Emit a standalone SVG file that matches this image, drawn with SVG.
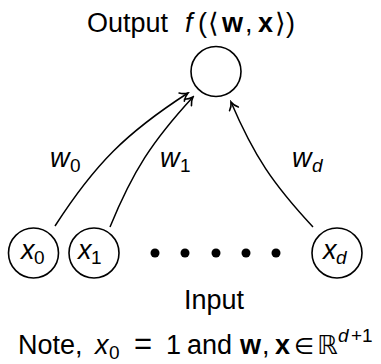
<svg xmlns="http://www.w3.org/2000/svg" width="381" height="364" viewBox="0 0 381 364">
  <style>
    .node { fill: #fff; stroke: #000; stroke-width: 1.6; }
    .edge { fill: none; stroke: #000; stroke-width: 1.5; marker-end: url(#to); }
    text { font-family: "Liberation Sans", "DejaVu Sans", sans-serif; font-size: 27px; fill: #000; }
    .it { font-style: italic; }
    .bf { font-weight: bold; }
    .sub { font-size: 19px; }
    .sym { font-family: "DejaVu Sans", sans-serif; }
  </style>
  <defs>
    <marker id="to" viewBox="-9 -6 11 12" markerWidth="11" markerHeight="12" refX="0" refY="0" orient="auto" markerUnits="userSpaceOnUse">
      <path d="M-7.5,-4.8 C-5,-2 -2,-0.6 0,0 C-2,0.6 -5,2 -7.5,4.8" fill="none" stroke="#000" stroke-width="1.6" stroke-linecap="round"/>
    </marker>
  </defs>

  <!-- title -->
  <text id="title" y="32"><tspan x="87">Output</tspan><tspan x="185" class="it">f</tspan><tspan x="198">(</tspan><tspan x="208" class="sym">⟨</tspan><tspan x="222" class="bf">w</tspan><tspan x="245">,</tspan><tspan x="258" class="bf">x</tspan><tspan x="275" class="sym">⟩</tspan><tspan x="286">)</tspan></text>

  <!-- output neuron -->
  <g id="output">
    <circle class="node" cx="216" cy="71.5" r="25"/>
  </g>

  <!-- input neurons -->
  <g id="x0">
    <circle class="node" cx="33.5" cy="253" r="25"/>
    <text y="259"><tspan x="21" class="it">x</tspan><tspan x="34" y="264" class="sub">0</tspan></text>
  </g>
  <g id="x1">
    <circle class="node" cx="94" cy="253" r="25"/>
    <text y="259"><tspan x="78" class="it">x</tspan><tspan x="91" y="264" class="sub">1</tspan></text>
  </g>
  <g id="xd">
    <circle class="node" cx="337" cy="253" r="25"/>
    <text y="259"><tspan x="323" class="it">x</tspan><tspan x="336" y="264" class="sub it">d</tspan></text>
  </g>

  <!-- ellipsis between x1 and xd -->
  <g id="dots" fill="#000">
    <circle cx="155" cy="253" r="4.5"/>
    <circle cx="185" cy="253" r="4.5"/>
    <circle cx="216" cy="253" r="4.5"/>
    <circle cx="246" cy="253" r="4.5"/>
    <circle cx="276" cy="253" r="4.5"/>
  </g>

  <!-- weighted connections -->
  <g id="edges">
    <path class="edge" d="M55,226 C95,164 126,133 188,93"/>
    <path class="edge" d="M110,227 C133,171 152,141.5 193,97"/>
    <path class="edge" d="M313,227 C273,184 254,156 231,102"/>
    <text y="167"><tspan x="50" class="it">w</tspan><tspan x="70" y="172" class="sub">0</tspan></text>
    <text y="167"><tspan x="160" class="it">w</tspan><tspan x="180" y="172" class="sub">1</tspan></text>
    <text y="167"><tspan x="292" class="it">w</tspan><tspan x="312" y="172" class="sub it">d</tspan></text>
  </g>

  <!-- captions -->
  <text id="input-label" x="214" y="309" text-anchor="middle">Input</text>
  <text id="note" y="354"><tspan x="18">Note,</tspan><tspan x="95" class="it">x</tspan><tspan x="109" y="359" class="sub">0</tspan><tspan x="134" y="354" style="font-size:31px">=</tspan><tspan x="166">1</tspan><tspan x="187">and</tspan><tspan x="240" class="bf">w</tspan><tspan x="262">,</tspan><tspan x="275" class="bf">x</tspan><tspan x="294" class="sym" style="font-size:23px">∈</tspan><tspan x="317" class="sym" style="font-size:26px">ℝ</tspan><tspan x="338" y="342" class="sub it">d</tspan><tspan x="351" class="sub">+1</tspan></text>
</svg>
